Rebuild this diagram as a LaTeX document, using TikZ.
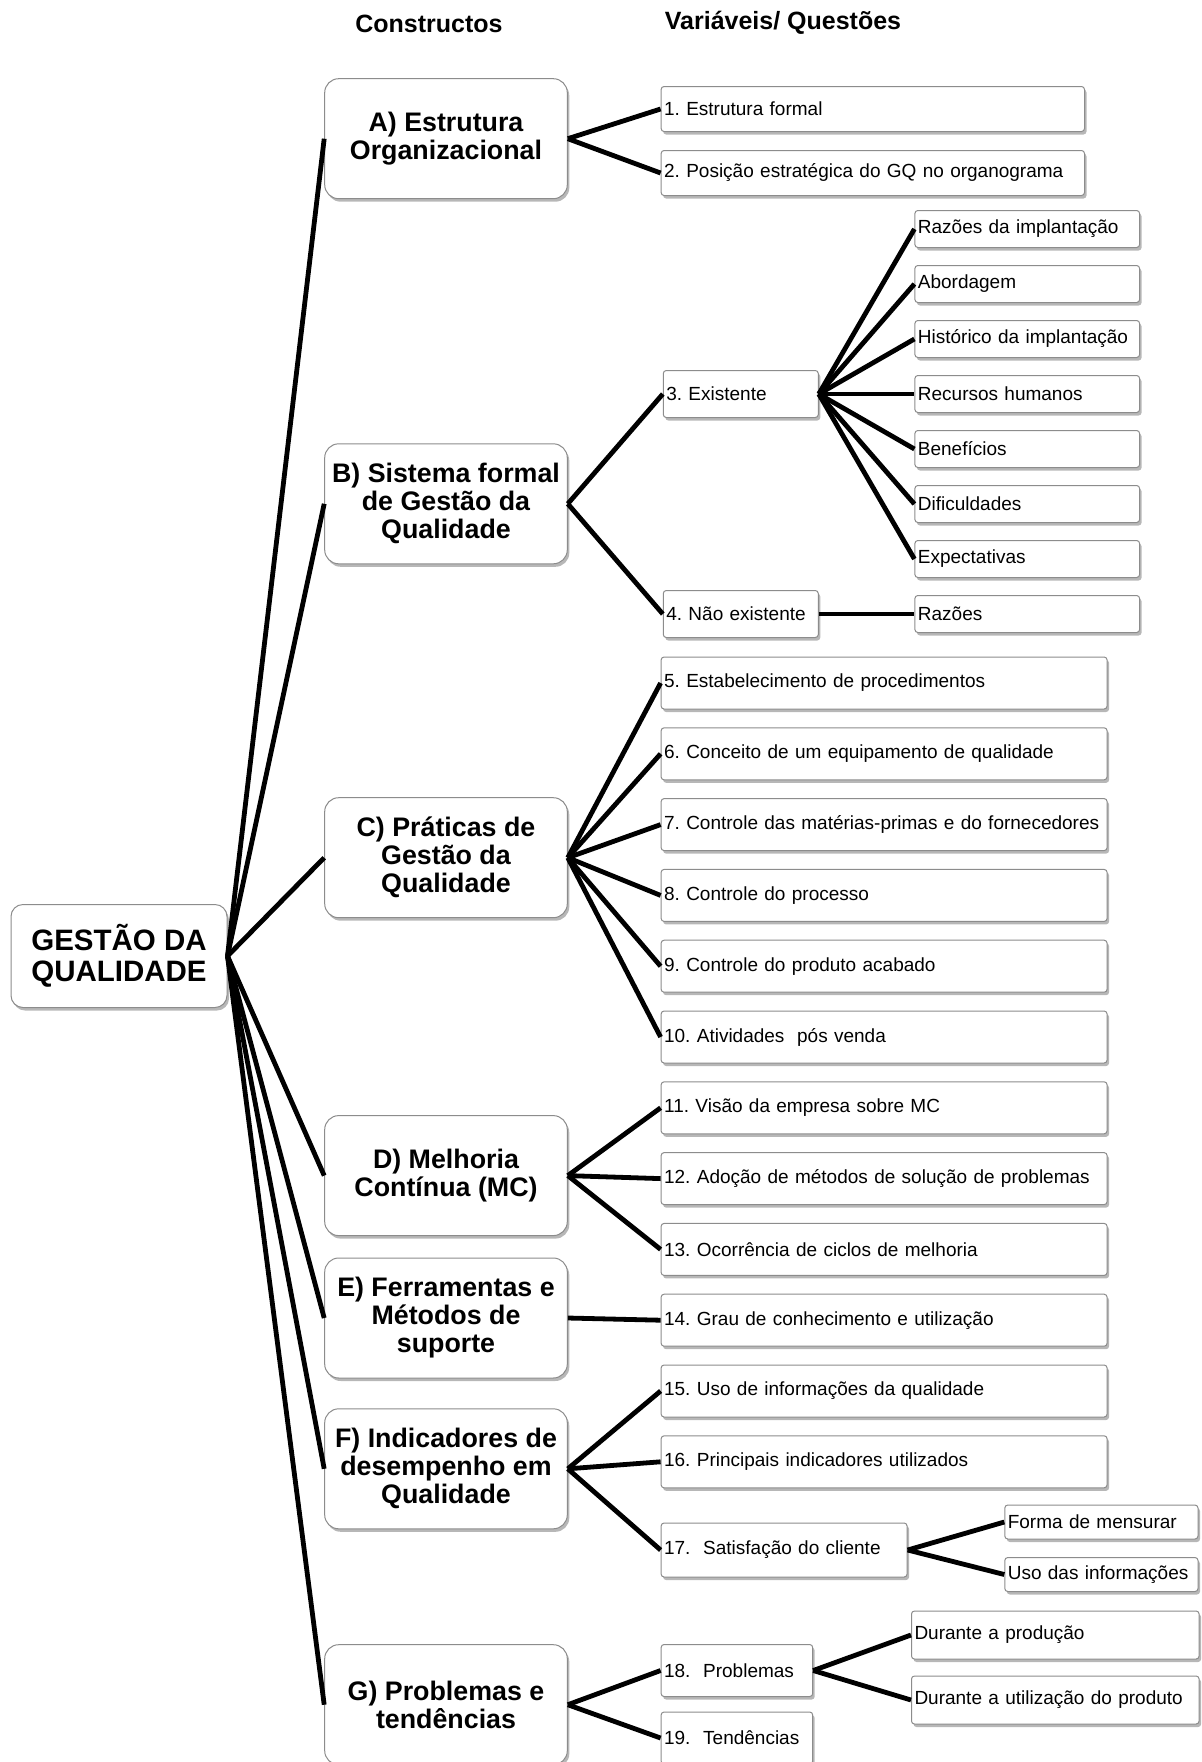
\documentclass[tikz,border=0pt]{standalone}
\usepackage{fontspec}
\setmainfont{Liberation Sans}
\usetikzlibrary{shadows}
\begin{document}
\frenchspacing
\begin{tikzpicture}[x=1pt,y=-1pt]
\tikzset{
  base/.style={draw=black!45, line width=1pt, fill=white,
    drop shadow={shadow xshift=2pt, shadow yshift=-3pt, opacity=0.4, fill=black!70}},
  rootbox/.style={base, rounded corners=12pt, minimum width=216pt, minimum height=103pt,
    align=center, inner sep=2pt, font=\bfseries\fontsize{29.5}{31.5}\selectfont},
  cbox/.style={base, rounded corners=14pt, minimum width=242.6pt, minimum height=120pt,
    align=center, inner sep=2pt, font=\bfseries\fontsize{26.8}{28}\selectfont},
  sbox/.style={base, rounded corners=3pt, align=left, inner xsep=3pt, inner ysep=0pt,
    anchor=west, font=\fontsize{19}{22}\selectfont},
  hdr/.style={font=\bfseries\fontsize{25}{28}\selectfont, inner sep=0pt},
  conn/.style={line width=4.8pt, black},
  wide/.style={sbox, text width=440pt, minimum height=52pt},
  sub/.style={sbox, text width=218.7pt, minimum height=37pt},
}
\useasboundingbox (0,0) rectangle (1202,1762);
\clip (0,0) rectangle (1202,1762);

% headers
\node[hdr] (h1) at (429,23.6) {Constructos};
\node[hdr] (h2) at (783,22.5) {Variáveis/ Questões};

% root
\node[rootbox] (root) at (119,956) {GESTÃO DA\\QUALIDADE};

% constructs
\node[cbox] (A) at (446,138.7) {A) Estrutura\\Organizacional};
\node[cbox] (B) at (446,503.8) {B) Sistema formal\\de Gestão da\\Qualidade};
\node[cbox] (C) at (446,857.7) {C) Práticas de\\Gestão da\\Qualidade};
\node[cbox] (D) at (446,1175.6) {D) Melhoria\\Contínua (MC)};
\node[cbox] (E) at (446,1318) {E) Ferramentas e\\Métodos de\\suporte};
\node[cbox] (F) at (446,1468.8) {F) Indicadores de\\desempenho em\\Qualidade};
\node[cbox] (G) at (446,1704.7) {G) Problemas e\\tendências};

% A items
\node[sbox, text width=417.4pt, minimum height=45pt] (n1) at (660.6,109) {1. Estrutura formal};
\node[sbox, text width=417.4pt, minimum height=45pt] (n2) at (660.6,173) {2. Posição estratégica do GQ no organograma};

% B items
\node[sbox, text width=149pt, minimum height=47pt] (n3) at (662.8,394) {3. Existente};
\node[sbox, text width=149pt, minimum height=47pt] (n4) at (662.8,614) {4. Não existente};
\node[sub] (s1) at (914.4,229) {Razões da implantação};
\node[sub] (s2) at (914.4,284) {Abordagem};
\node[sub] (s3) at (914.4,339) {Histórico da implantação};
\node[sub] (s4) at (914.4,394) {Recursos humanos};
\node[sub] (s5) at (914.4,449) {Benefícios};
\node[sub] (s6) at (914.4,504) {Dificuldades};
\node[sub] (s7) at (914.4,559) {Expectativas};
\node[sub] (s8) at (914.4,614) {Razões};

% C items
\node[wide] (n5) at (660.6,683) {5. Estabelecimento de procedimentos};
\node[wide] (n6) at (660.6,753.8) {6. Conceito de um equipamento de qualidade};
\node[wide] (n7) at (660.6,824.6) {7. Controle das matérias-primas e do fornecedores};
\node[wide] (n8) at (660.6,895.4) {8. Controle do processo};
\node[wide] (n9) at (660.6,966.2) {9. Controle do produto acabado};
\node[wide] (n10) at (660.6,1037) {10. Atividades\ \ pós venda};

% D items
\node[wide] (n11) at (660.6,1107.8) {11. Visão da empresa sobre MC};
\node[wide] (n12) at (660.6,1178.6) {12. Adoção de métodos de solução de problemas};
\node[wide] (n13) at (660.6,1249.4) {13. Ocorrência de ciclos de melhoria};

% E items
\node[wide] (n14) at (660.6,1320.2) {14. Grau de conhecimento e utilização};

% F items
\node[wide] (n15) at (660.6,1391) {15. Uso de informações da qualidade};
\node[wide] (n16) at (660.6,1461.8) {16. Principais indicadores utilizados};
\node[sbox, text width=240pt, minimum height=54pt] (n17) at (660.6,1550) {17.\ \ Satisfação do cliente};
\node[sbox, text width=187.2pt, minimum height=34pt] (f1) at (1004.3,1522) {Forma de mensurar};
\node[sbox, text width=187.2pt, minimum height=34pt] (f2) at (1004.3,1574.5) {Uso das informações};

% G items
\node[sbox, text width=145.6pt, minimum height=52pt] (n18) at (660.6,1670.5) {18.\ \ Problemas};
\node[sbox, text width=145.6pt, minimum height=52pt] (n19) at (660.6,1738) {19.\ \ Tendências};
\node[sbox, text width=281.6pt, minimum height=48pt] (g1) at (911,1635) {Durante a produção};
\node[sbox, text width=281.6pt, minimum height=48pt] (g2) at (911,1700) {Durante a utilização do produto};

% connectors
\foreach \c in {A,B,C,D,E,F,G} \draw[conn] (root.east) -- (\c.west);
\foreach \t in {n1,n2} \draw[conn] (A.east) -- (\t.west);
\foreach \t in {n3,n4} \draw[conn] (B.east) -- (\t.west);
\foreach \t in {s1,s2,s3,s4,s5,s6,s7} \draw[conn] (n3.east) -- (\t.west);
\draw[conn] (n4.east) -- (s8.west);
\foreach \t in {n5,n6,n7,n8,n9,n10} \draw[conn] (C.east) -- (\t.west);
\foreach \t in {n11,n12,n13} \draw[conn] (D.east) -- (\t.west);
\draw[conn] (E.east) -- (n14.west);
\foreach \t in {n15,n16,n17} \draw[conn] (F.east) -- (\t.west);
\foreach \t in {f1,f2} \draw[conn] (n17.east) -- (\t.west);
\foreach \t in {n18,n19} \draw[conn] (G.east) -- (\t.west);
\foreach \t in {g1,g2} \draw[conn] (n18.east) -- (\t.west);
\end{tikzpicture}
\end{document}
